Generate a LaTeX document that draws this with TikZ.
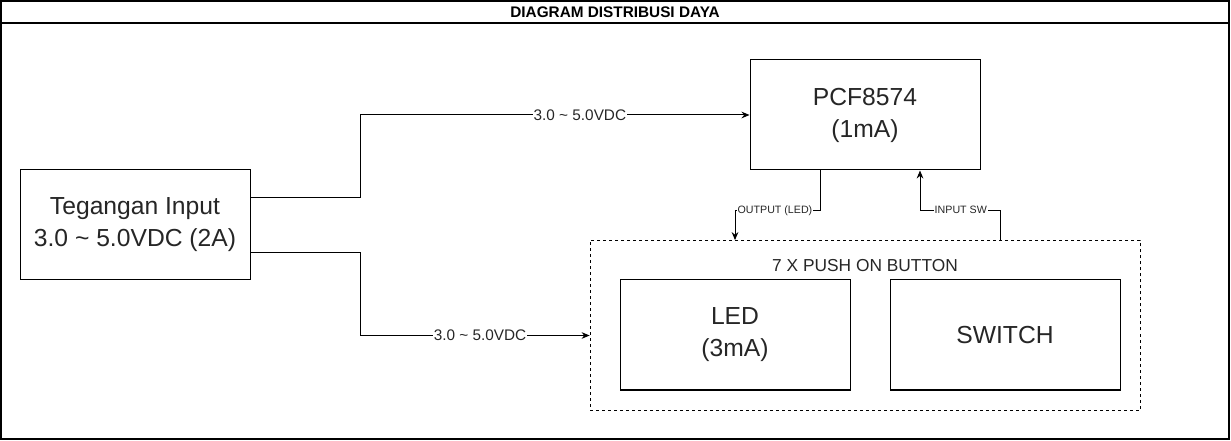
\documentclass[tikz,border=0pt]{standalone}
\usepackage{fontspec}
\setmainfont{Liberation Sans}
\usetikzlibrary{arrows.meta}
\begin{document}
\begin{tikzpicture}[x=0.75pt,y=-0.75pt,
  box/.style={draw,line width=0.75pt,minimum width=172.5pt,minimum height=82.5pt,inner sep=0pt,align=center,font=\fontsize{18.5}{24}\selectfont,text=black!85},
  grp/.style={draw,line width=0.6pt,dash pattern=on 2.25pt off 2.25pt,minimum width=412.5pt,minimum height=127.5pt,inner sep=0pt},
  conn/.style={line width=0.75pt,-{Stealth[length=6pt,width=5pt]}},
  lbl/.style={fill=white,inner sep=0.5pt,font=\fontsize{11.5}{13}\selectfont,text=black!85},
  slbl/.style={fill=white,inner sep=0.5pt,font=\fontsize{8}{9}\selectfont,text=black!85}]
\useasboundingbox (0,0) rectangle (1231,441);
\draw[line width=1pt] (1,1) rectangle (1229,439);
\draw[line width=1pt] (1,23) -- (1229,23);
\node[font=\bfseries\fontsize{11.5}{13}\selectfont] (title) at (615,12.5) {DIAGRAM DISTRIBUSI DAYA};

\node[box] (teg) at (135,225) {Tegangan Input\\3.0 \textasciitilde\ 5.0VDC (2A)};
\node[box] (pcf) at (865,115) {PCF8574\\(1mA)};
\node[grp] (btn) at (865,325.5) {};
\node[font=\fontsize{13}{15}\selectfont,text=black!85] (btnlbl) at (865,266) {7 X PUSH ON BUTTON};
\node[box] (led) at (735,335) {LED\\(3mA)};
\node[box] (sw) at (1005,335) {SWITCH};

\draw[conn] ([yshift=20.25pt]teg.east) -- ++(110,0) |- node[lbl,pos=0.782]{3.0 \textasciitilde\ 5.0VDC} (pcf.west);
\draw[conn] ([yshift=-21pt]teg.east) -- ++(110,0) |- node[lbl,pos=0.761]{3.0 \textasciitilde\ 5.0VDC} ([yshift=-7.5pt]btn.west);
\draw[conn] ([xshift=-33.75pt]pcf.south) -- ++(0,40) -| node[slbl,pos=0.265]{OUTPUT (LED)} ([xshift=-97.5pt]btn.north);
\draw[conn] ([xshift=101.25pt]btn.north) -- ++(0,-30) -| node[slbl,pos=0.245]{INPUT SW} ([xshift=41.25pt]pcf.south);
\end{tikzpicture}
\end{document}
